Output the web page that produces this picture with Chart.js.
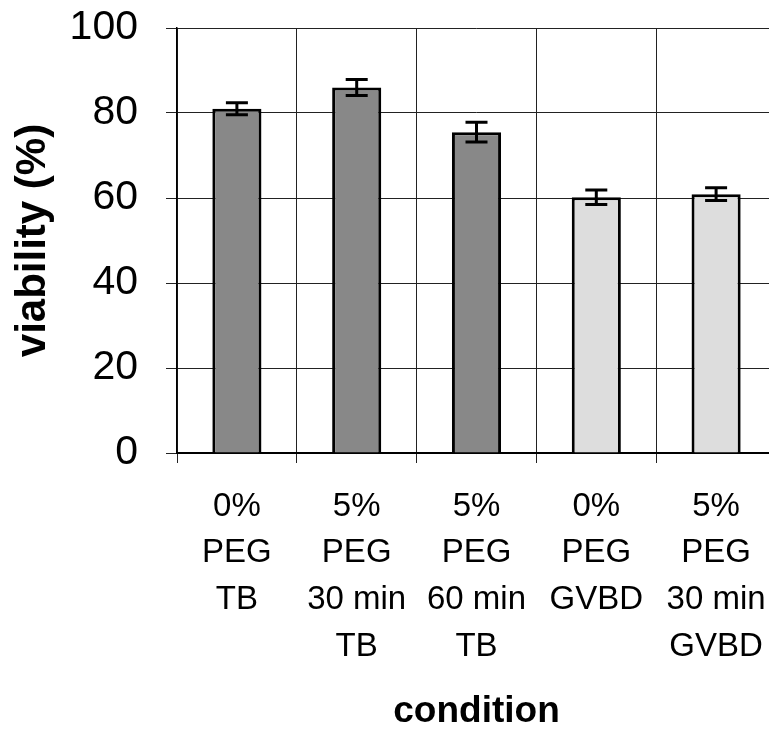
<!DOCTYPE html>
<html>
<head>
<meta charset="utf-8">
<script src="https://cdn.jsdelivr.net/npm/chart.js@4/dist/chart.umd.min.js"></script>
<style>
  html, body { margin: 0; padding: 0; background: #fff; overflow: hidden; }
  #wrap { width: 769px; height: 733px; overflow: hidden; }
  canvas { display: block; }
</style>
</head>
<body>
<div id="wrap"><canvas id="c" width="800" height="733"></canvas></div>
<script>
// Viability per treatment condition (mean and error)
const categories = [
  ['0%', 'PEG', 'TB'],
  ['5%', 'PEG', '30 min', 'TB'],
  ['5%', 'PEG', '60 min', 'TB'],
  ['0%', 'PEG', 'GVBD'],
  ['5%', 'PEG', '30 min', 'GVBD']
];
const viability = [81, 86, 75.5, 60.2, 60.9];
const viabilityErr = [1.4, 1.9, 2.3, 1.7, 1.5];
const yTicks = [0, 20, 40, 60, 80, 100];

const barColors = ['#888888', '#888888', '#888888', '#dddddd', '#dddddd'];
const FONT = '"Liberation Sans", Arial, sans-serif';

// Draws the error bars on top of each bar using the value scale
const errorBars = {
  id: 'errorBars',
  afterDatasetsDraw(chart) {
    const meta = chart.getDatasetMeta(0);
    const y = chart.scales.y;
    const ctx = chart.ctx;
    ctx.save();
    ctx.strokeStyle = '#000';
    ctx.lineWidth = 3;
    meta.data.forEach((bar, i) => {
      const v = viability[i], e = viabilityErr[i];
      const yTop = y.getPixelForValue(v + e);
      const yBot = y.getPixelForValue(v - e);
      const half = 11;
      ctx.beginPath();
      ctx.moveTo(bar.x, yTop);
      ctx.lineTo(bar.x, yBot);
      ctx.moveTo(bar.x - half, yTop);
      ctx.lineTo(bar.x + half, yTop);
      ctx.moveTo(bar.x - half, yBot);
      ctx.lineTo(bar.x + half, yBot);
      ctx.stroke();
    });
    ctx.restore();
  }
};

new Chart(document.getElementById('c'), {
  type: 'bar',
  data: {
    labels: categories,
    datasets: [{
      data: viability,
      backgroundColor: barColors,
      borderColor: '#000',
      borderWidth: 3,
      borderSkipped: 'bottom',
      categoryPercentage: 1,
      barPercentage: 0.41
    }]
  },
  options: {
    responsive: false,
    animation: false,
    devicePixelRatio: 1,
    layout: { padding: { left: 0, top: 28, right: 24, bottom: 0 } },
    plugins: {
      legend: { display: false },
      tooltip: { enabled: false }
    },
    scales: {
      x: {
        grid: {
          display: true,
          offset: true,
          color: '#222',
          lineWidth: 1,
          tickLength: 10,
          drawTicks: true
        },
        border: { display: true, color: '#000', width: 2 },
        ticks: {
          color: '#000',
          font: { family: FONT, size: 33, lineHeight: 1.42 },
          padding: 20,
          maxRotation: 0,
          autoSkip: false
        },
        title: {
          display: true,
          text: 'condition',
          color: '#000',
          font: { family: FONT, size: 37, weight: 'bold', lineHeight: 1 },
          padding: { top: 0, bottom: 3 }
        },
        afterFit(scale) { scale.height = 280; }
      },
      y: {
        min: 0,
        max: 100,
        afterBuildTicks(scale) { scale.ticks = yTicks.map(v => ({ value: v })); },
        grid: {
          color: '#222',
          lineWidth: 1,
          tickLength: 11
        },
        border: { display: true, color: '#000', width: 1.5 },
        ticks: {
          color: '#000',
          font: { family: FONT, size: 41 },
          padding: 28
        },
        title: {
          display: true,
          text: 'viability (%)',
          color: '#000',
          font: { family: FONT, size: 42, weight: 'bold', lineHeight: 1.2 },
          padding: { top: 8, bottom: 0 }
        },
        afterFit(scale) {
          scale.width = 177;
          scale.paddingTop = 0;
          scale.paddingBottom = 0;
        }
      }
    }
  },
  plugins: [errorBars]
});
</script>
</body>
</html>
